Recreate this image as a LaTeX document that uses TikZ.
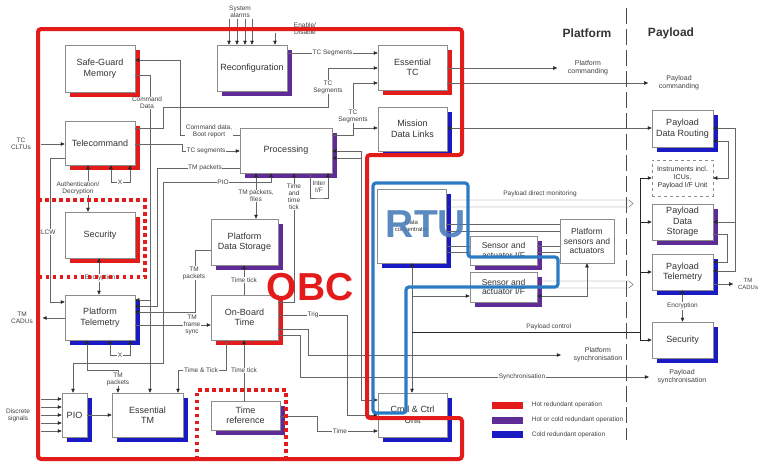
\documentclass[tikz,border=0pt]{standalone}
\usepackage{fontspec}
\setmainfont{Liberation Sans}
\usetikzlibrary{positioning, arrows.meta, shadows}
\definecolor{hotRed}{HTML}{E31B1B}
\definecolor{mixPurple}{HTML}{5E2B97}
\definecolor{coldBlue}{HTML}{1A1AC4}
\definecolor{rtuBlue}{HTML}{2A7BC4}
\definecolor{rtuText}{HTML}{4A7EBB}
\definecolor{boxGrey}{HTML}{8C8C8C}

\begin{document}
\begin{tikzpicture}[x=1pt, y=-1pt, >={Triangle[length=4pt, width=3.4pt, color=black!85]},
    box/.style={draw=boxGrey, fill=white, line width=0.5pt, align=center, inner sep=1pt,
      font=\fontsize{9}{10.5}\selectfont, text=black!80},
    sz/.style 2 args={minimum width=#1pt, minimum height=#2pt},
    hot/.style={box, drop shadow={shadow xshift=4.5pt, shadow yshift=-4.5pt, fill=hotRed, opacity=1}},
    mix/.style={box, drop shadow={shadow xshift=4.5pt, shadow yshift=-4.5pt, fill=mixPurple, opacity=1}},
    cold/.style={box, drop shadow={shadow xshift=4.5pt, shadow yshift=-4.5pt, fill=coldBlue, opacity=1}},
    lbl/.style={font=\fontsize{6.5}{7}\selectfont, text=black!75, align=center, inner sep=0.6pt},
    lblw/.style={lbl, fill=white},
    olbl/.style={lbl, font=\fontsize{7}{8}\selectfont},
    wire/.style={draw=black!60, line width=0.45pt},
    pctl/.style={draw=black!85, line width=0.9pt},
    hotframe/.style={draw=hotRed, line width=4pt, rounded corners=3pt},
    hotdots/.style={draw=hotRed, line width=3.5pt, dash pattern=on 3.5pt off 3.5pt},
    rtuframe/.style={draw=rtuBlue, line width=3.2pt, rounded corners=3pt}]
  \useasboundingbox (0,0) rectangle (760,469);

  % OBC blocks
  \node[hot, sz={70}{47}] (sgm) at (100,68.5) {Safe-Guard\\Memory};
  \node[hot, sz={70}{44}] (tcmd) at (100,143) {Telecommand};
  \node[hot, sz={70}{46}] (secp) at (100,235) {Security};
  \node[cold, sz={70}{45}] (ptm) at (100,317.5) {Platform\\Telemetry};
  \node[cold, sz={25}{44}] (pio) at (74.5,415) {PIO};
  \node[cold, sz={71}{44}] (etm) at (147.5,415) {Essential\\TM};
  \node[mix, sz={70}{46}] (reconf) at (252,68) {Reconfiguration};
  \node[hot, sz={69}{45}] (etc) at (412.5,67.5) {Essential\\TC};
  \node[cold, sz={69}{44}] (mdl) at (412.5,129) {Mission\\Data Links};
  \node[mix, sz={92}{45}] (proc) at (286,150.5) {Processing};
  \node[mix, sz={67}{46}] (pds) at (244.5,242) {Platform\\Data Storage};
  \node[hot, sz={67}{45}] (obt) at (244.5,317.5) {On-Board\\Time};
  \node[mix, sz={69}{29}] (tref) at (245.5,415.5) {Time\\reference};

  % RTU and platform side
  \node[cold, sz={69}{74}, font=\fontsize{6}{7}\selectfont] (dcon) at (411.5,226) {Data\\concentrator};
  \node[mix, sz={67}{29}, font=\fontsize{8.5}{9.5}\selectfont] (sai1) at (503.5,250.5) {Sensor and\\actuator I/F};
  \node[mix, sz={67}{30}, font=\fontsize{8.5}{9.5}\selectfont] (sai2) at (503.5,287) {Sensor and\\actuator I/F};
  \node[box, sz={54}{44}, font=\fontsize{8.5}{9.5}\selectfont] (psa) at (587,241) {Platform\\sensors and\\actuators};
  \node[cold, sz={69}{44}] (cc) at (412.5,415) {Cmd \& Ctrl\\Unit};

  % payload side
  \node[cold, sz={61}{37}] (pdr) at (682.5,128.5) {Payload\\Data Routing};
  \node[box, sz={61}{36}, dashed, font=\fontsize{7}{8}\selectfont] (instr) at (682.5,178) {Instruments incl.\\ICUs,\\Payload I/F Unit};
  \node[mix, sz={61}{36}] (pds2) at (682.5,222) {Payload\\Data\\Storage};
  \node[cold, sz={61}{36}] (ptm2) at (682.5,272) {Payload\\Telemetry};
  \node[cold, sz={61}{36}] (secy) at (682.5,340) {Security};

  % top inputs
  \node[lbl] (sysal) at (240,12) {System\\alarms};
  \foreach \x in {229,237,245,252}
    \draw[wire,->] (sysal.south -| \x,0) -- (reconf.north -| \x,0);
  \node[lbl] (endis) at (305,29) {Enable/\\Disable};
  \coordinate (endisin) at (275,33);
  \draw[wire,->] (endisin) -- (reconf.north -| endisin);

  % telecommand chain
  \draw[wire,->] (reconf.east |- 0,53) -- node[lblw] (tcseg0) {TC Segments} (etc.west |- 0,53);
  \draw[wire,->] (tcmd.east |- 0,128) -- (163,128) |- (328,107) |- (etc.west |- 0,68);
  \node[lblw] (tcseg2) at (328,87) {TC\\Segments};
  \draw[wire,->] (proc.east |- 0,135) -| (353,83) -- (etc.west |- 0,83);
  \node[lblw] (tcseg3) at (353,116) {TC\\Segments};
  \coordinate (mdlj) at (353,128);
  \draw[wire,->] (mdlj) -- (mdl.west |- mdlj);
  \draw[wire,<->] (mdl.east |- 0,128) -- (pdr.west |- 0,128);
  \node[olbl] (platcmd) at (588,68) {Platform\\commanding};
  \draw[wire,->] (etc.east |- platcmd) -- ([xshift=-10pt]platcmd.west);
  \node[olbl] (paycmd) at (679,83) {Payload\\commanding};
  \draw[wire,->] (etc.east |- paycmd) -- ([xshift=-10pt]paycmd.west);

  % processing links
  \draw[wire,->] (proc.west |- 0,135) -| (180,60) -- (sgm.east |- 0,60);
  \node[lblw] (cmdboot) at (209,131) {Command data,\\Boot report};
  \draw[wire,->] (tcmd.east |- 0,144) -| (182,151) -- (proc.west |- 0,151);
  \node[lblw] (tcseg1) at (206,151) {TC segments};
  \draw[wire,->] (proc.west |- 0,168) -| (157,306) -- (ptm.east |- 0,306);
  \node[lblw] (tmpk1) at (205,168) {TM packets};
  \draw[wire,<->] (proc.south -| 271,0) |- (163,182) |- (73,363) -- (pio.north -| 73,0);
  \node[lblw] (piolbl) at (223,182) {PIO};
  \draw[wire,->] (sgm.east |- 0,75) -| (150,300) -- (ptm.east |- 0,300);
  \node[lblw] (cmddata) at (147,103) {Command\\Data};
  \coordinate (cdj) at (150,300);
  \draw[wire,->] (cdj) -- (etm.north -| cdj);
  \draw[wire,->] (pds.west |- 0,250) -| (195,312) -- (ptm.east |- 0,312);
  \node[lblw] (tmpk2) at (194,273) {TM\\packets};
  \draw[wire,<->] (proc.south -| 256,0) -- (pds.north -| 256,0);
  \node[lblw] (tmpf) at (256,196) {TM packets,\\files};
  \draw[wire,->] (obt.east |- 0,302) -| (proc.south -| 294,0);
  \node[lblw] (tatt) at (294,197) {Time\\and\\time\\tick};
  \draw[wire,->] (proc.south -| 310,0) |- (319,198) -| (proc.south -| 328,0);
  \node[lbl] (intif) at (319,187) {Inter\\I/F};

  % telecommand / telemetry side
  \node[lbl] (tccltu) at (21,144) {TC\\CLTUs};
  \draw[wire,->, shorten <=9pt] (tccltu.east) -- (tcmd.west |- tccltu);
  \node[lbl] (tmcadu) at (22,318) {TM\\CADUs};
  \draw[wire,->, shorten >=9pt] (ptm.west |- tmcadu) -- (tmcadu.east);
  \node[lbl] (disc) at (18,415) {Discrete\\signals};
  \foreach \y in {399,407,415,423,431}
    \draw[wire,->, shorten <=10pt] (disc.east |- 0,\y) -- (pio.west |- 0,\y);
  \draw[wire,->] (tcmd.west |- 0,158) -| (50,302) -- (ptm.west |- 0,302);
  \node[lblw] (clcw) at (46,232) {CLCW};
  \draw[wire,<->] (tcmd.south -| 88,0) -- (secp.north -| 88,0);
  \node[lblw] (authd) at (78,188) {Authentication/\\Decryption};
  \draw[wire,<->] (secp.south -| 99,0) -- (ptm.north -| 99,0);
  \node[lblw] (encr1) at (100,278) {Encryption};
  \draw[wire,<->] (tcmd.south -| 111,0) |- (130,182) -- (tcmd.south -| 130,0);
  \node[lblw] (xtc) at (120,182) {X};
  \draw[wire,<->] (ptm.south -| 110,0) |- (130,355) -- (ptm.south -| 130,0);
  \node[lblw] (xpt) at (120,355) {X};
  \draw[wire,<->] (ptm.south -| 87,0) |- (118,370) -- (etm.north -| 118,0);
  \node[lblw] (tmpk3) at (118,379) {TM\\packets};
  \draw[wire,->] (pio.east) -- (etm.west);
  \draw[wire,->] (ptm.east |- 0,325) -- (obt.west |- 0,325);
  \node[lblw] (tmfs) at (192,325) {TM\\frame\\sync};

  % time distribution
  \draw[wire,->] (obt.south -| 226,0) |- (178,370) -- (etm.north -| 178,0);
  \node[lblw] (ttick) at (201,370) {Time \& Tick};
  \draw[wire,->] (tref.north -| 244,0) -- node[lblw] (ttk1) {Time tick} (obt.south -| 244,0);
  \draw[wire,->] (obt.north -| 244,0) -- node[lblw] (ttk2) {Time tick} (pds.south -| 244,0);
  \draw[wire,->] (obt.east |- 0,315) -| (347,415) -- (cc.west |- 0,415);
  \node[lblw] (trig) at (313,315) {Trig};
  \node[olbl] (psync) at (598,355) {Platform\\synchronisation};
  \draw[wire,->] (obt.east |- 0,329) -| (308,355) -- ([xshift=-12pt]psync.west);
  \node[olbl] (paysync) at (682,377) {Payload\\synchronisation};
  \draw[wire,->] (obt.east |- 0,335) -| (300,377) -- ([xshift=-8pt]paysync.west);
  \node[lblw] (syncl) at (522,377) {Synchronisation};
  \draw[wire,->] (tref.east |- 0,416) -| (317,431) -- (cc.west |- 0,431);
  \node[lblw] (timel) at (340,431) {Time};

  % command & control
  \draw[wire,<->] (cc.west |- 0,400) -| (361,151) -- (proc.east |- 0,151);
  \coordinate (procj) at (361,158);
  \draw[wire,->] (procj) -- (proc.east |- procj);
  \draw[wire,<->] (dcon.south -| 412,0) -- (cc.north -| 412,0);
  \coordinate (saij) at (412,296);
  \draw[wire,->] (saij) -- (sai2.west |- saij);
  \draw[wire,<->] (psa.south) |- (sai2.east |- 0,296);
  \foreach \y in {224,231}
    \draw[wire] (dcon.east |- 0,\y) -- (psa.west |- 0,\y);
  \foreach \y in {246,252} {
    \draw[wire] (dcon.east |- 0,\y) -- (sai1.west |- 0,\y);
    \draw[wire] (sai1.east |- 0,\y) -- (psa.west |- 0,\y);
  }
  \draw[wire] (dcon.east |- 0,200) -- (629,200) -- (633,203.5) -- (629,207) -- (dcon.east |- 0,207);
  \node[lbl] (pdm) at (540,194) {Payload direct monitoring};
  \draw[wire] (sai2.east |- 0,281) -- (629,281) -- (633,284.5) -- (629,288) -- (sai2.east |- 0,288);

  % payload control
  \coordinate (pcj) at (412,332);
  \coordinate (pcv) at (640,332);
  \draw[pctl] (pcj) -- node[lbl, above=1pt, pos=0.6] (pcl) {Payload control} (pcv);
  \draw[pctl] (pcv |- instr.west) -- (pcv |- secy.west);
  \foreach \b in {instr,pds2,ptm2,secy}
    \draw[pctl,->] (pcv |- \b.west) -- (\b.west);

  % payload data flow
  \draw[wire,<->] (pdr.east |- 0,141) -| (728,178) -- (instr.east |- 0,178);
  \draw[wire,<->] (pdr.east |- 0,128) -| (735,222) -- (pds2.east |- 0,222);
  \coordinate (ptmj) at (735,222);
  \draw[wire,->] (ptmj) |- (ptm2.east |- 0,271);
  \draw[wire,->] (pds2.east |- 0,234) -| (727,262) -- (ptm2.east |- 0,262);
  \node[lbl, font=\fontsize{6}{6.5}\selectfont] (tmcadu2) at (748,284) {TM\\CADUs};
  \draw[wire,->] (ptm2.east |- tmcadu2) -- ([xshift=-4pt]tmcadu2.west);
  \draw[wire,<->] (ptm2.south) -- node[lblw] (encr2) {Encryption} (secy.north);

  % headers, divider, legend
  \node[font=\fontsize{12}{14}\selectfont\bfseries, text=black!80] (plath) at (587,33) {Platform};
  \node[font=\fontsize{12}{14}\selectfont\bfseries, text=black!80] (payh) at (671,33) {Payload};
  \draw[black!70, line width=0.8pt, dash pattern=on 16pt off 5pt] (626,8) -- (626,440);
  \foreach \y/\c/\t in {405/hotRed/Hot redundant operation,
      420/mixPurple/Hot or cold redundant operation,
      434.5/coldBlue/Cold redundant operation} {
    \fill[\c] (492,\y-3.5) rectangle (523,\y+3.5);
    \node[lbl, anchor=west] (leg-\c) at (531,\y) {\t};
  }

  % redundancy frames
  \draw[hotframe] (38,29) -- (462,29) -- (462,155) -- (367,155) -- (367,418)
    -- (462,418) -- (462,459) -- (38,459) -- cycle;
  \draw[hotdots] (38,200) -- (145,200) -- (145,277) -- (38,277);
  \draw[hotdots] (197,459) -- (197,390) -- (286,390) -- (286,459);
  \draw[rtuframe] (373,183) -- (468,183) -- (468,257) -- (558,257) -- (558,287)
    -- (406,287) -- (406,413) -- (373,413) -- cycle;

  \node[font=\fontsize{39}{39}\selectfont\bfseries, text=hotRed] (obcl) at (310,287) {OBC};
  \node[font=\fontsize{39}{39}\selectfont\bfseries, text=rtuText, text opacity=0.9] (rtul) at (426,224) {RTU};
\end{tikzpicture}
\end{document}
